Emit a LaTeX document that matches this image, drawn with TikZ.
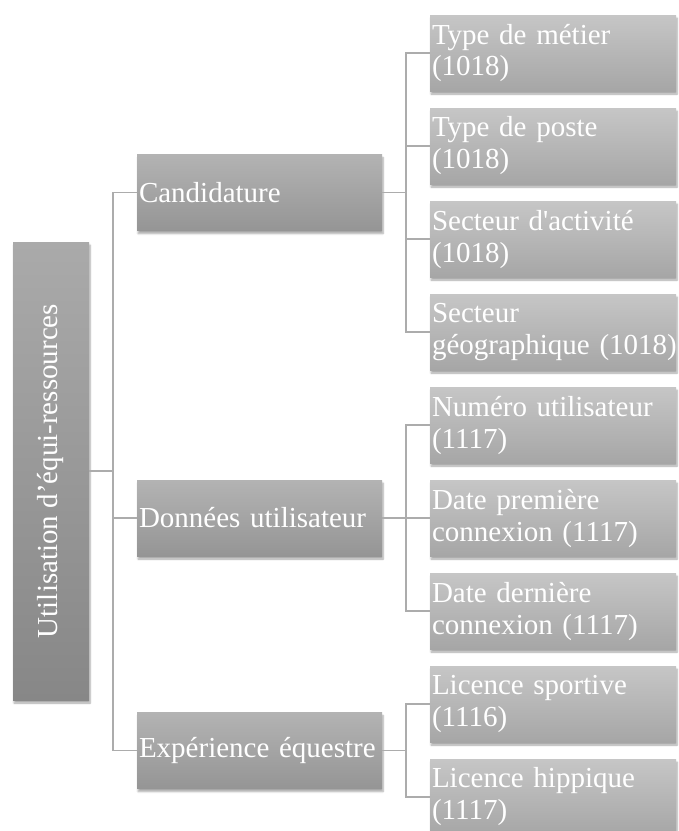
\documentclass[tikz,border=0pt]{standalone}
\usepackage{fontspec}
\setmainfont{Liberation Serif}
\usepackage{tikz}
\usetikzlibrary{shadows.blur}

\definecolor{leaftop}{HTML}{C6C6C6}
\definecolor{leafbot}{HTML}{A6A6A6}
\definecolor{midtop}{HTML}{B3B3B3}
\definecolor{midbot}{HTML}{959595}
\definecolor{roottop}{HTML}{AAAAAA}
\definecolor{rootbot}{HTML}{878787}
\definecolor{linkgray}{HTML}{ACACAC}

\tikzset{
	box/.style={text=white, inner xsep=2pt, inner ysep=0pt,
		font=\fontsize{29}{32}\selectfont,
		blur shadow={shadow xshift=1pt, shadow yshift=-3pt, shadow blur steps=6, shadow opacity=35}},
	leafbox/.style={box, top color=leaftop, bottom color=leafbot,
		minimum width=246pt, minimum height=76pt, text width=242pt, align=left},
	midbox/.style={box, top color=midtop, bottom color=midbot,
		minimum width=245pt, minimum height=76pt, text width=241pt, align=left},
	rootbox/.style={box, top color=roottop, bottom color=rootbot,
		minimum width=76pt, minimum height=458pt, inner xsep=0pt, align=center},
	link/.style={draw=linkgray, line width=1.5pt}
}

\begin{document}
\begin{tikzpicture}[x=1pt, y=-1pt]
				\useasboundingbox (0,0) rectangle (679,831);
				
				\node [rootbox] (root) at (51,471) {\rotatebox{90}{Utilisation d’équi-ressources}};
				
				\node [midbox] (cand) at (259.5,192.5) {Candidature};
				\node [midbox] (donn) at (259.5,518) {Données utilisateur};
				\node [midbox] (exp) at (259.5,750.5) {Expérience équestre};
				
				\node [leafbox] (metier) at (553,53) {Type de métier\\(1018)};
				\node [leafbox] (poste) at (553,146) {Type de poste\\(1018)};
				\node [leafbox] (activite) at (553,239) {Secteur d\textquotesingle activité\\(1018)};
				\node [leafbox] (geo) at (553,332) {Secteur\\\mbox{géographique (1018)}};
				\node [leafbox] (numero) at (553,425) {Numéro utilisateur\\(1117)};
				\node [leafbox] (premiere) at (553,518) {Date première\\connexion (1117)};
				\node [leafbox] (derniere) at (553,611) {Date dernière\\connexion (1117)};
				\node [leafbox] (sportive) at (553,704) {Licence sportive\\(1116)};
				\node [leafbox] (hippique) at (553,797) {Licence hippique\\(1117)};
				
				% % % % % % % % % % % % % % % % % % % % % % % % % %
				
				\coordinate (rootspine) at ([xshift=24pt]root.east);
				\coordinate (candspine) at ([xshift=24pt]cand.east);
				\coordinate (donnspine) at ([xshift=24pt]donn.east);
				\coordinate (expspine) at ([xshift=24pt]exp.east);
				
				\draw [link] (root.east) -- (rootspine);
				\draw [link] (rootspine) |- (cand.west);
				\draw [link] (rootspine) |- (donn.west);
				\draw [link] (rootspine) |- (exp.west);
				
				\draw [link] (cand.east) -- (candspine);
				\foreach \leaf in {metier,poste,activite,geo}
					\draw [link] (candspine) |- (\leaf.west);
				
				\draw [link] (donn.east) -- (donnspine);
				\foreach \leaf in {numero,premiere,derniere}
					\draw [link] (donnspine) |- (\leaf.west);
				
				\draw [link] (exp.east) -- (expspine);
				\foreach \leaf in {sportive,hippique}
					\draw [link] (expspine) |- (\leaf.west);
\end{tikzpicture}
\end{document}
